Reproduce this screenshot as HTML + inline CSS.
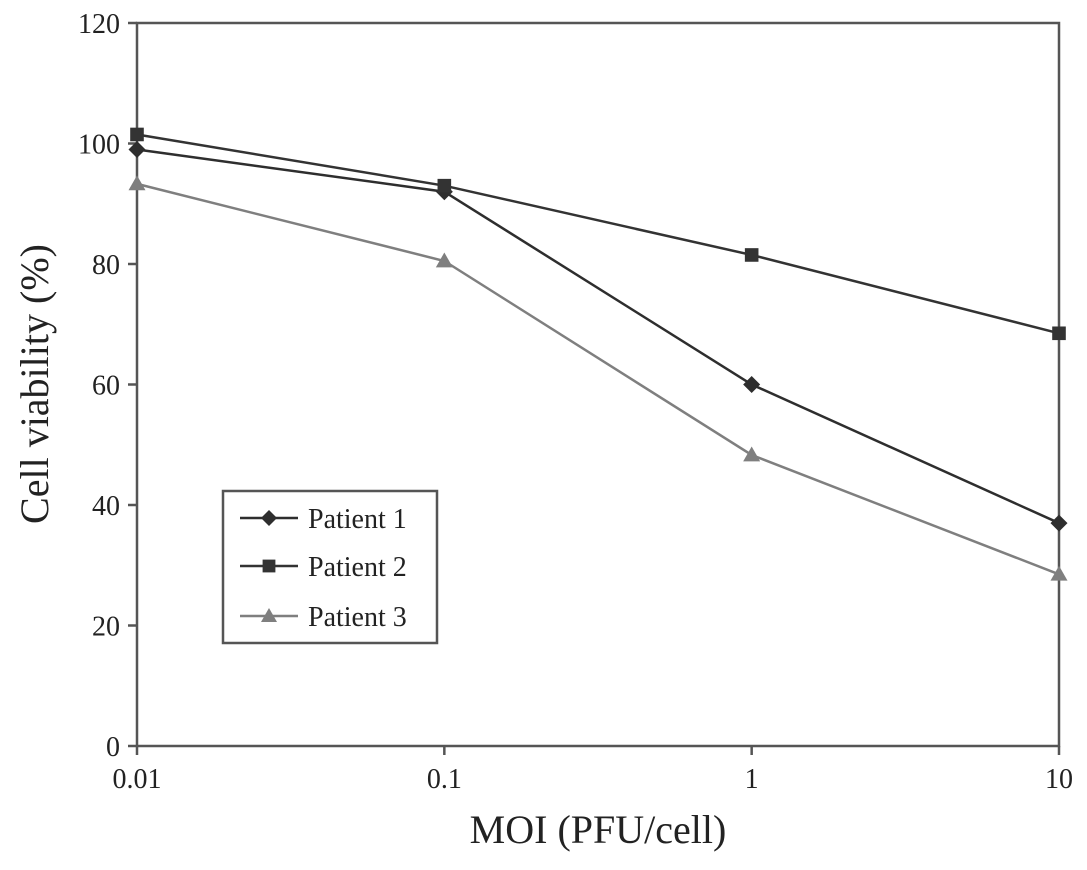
<!DOCTYPE html>
<html><head><meta charset="utf-8"><style>
html,body{margin:0;padding:0;background:#fff;}
svg{display:block;font-family:"Liberation Serif",serif;}
</style></head><body>
<svg id="chart" width="1087" height="870" viewBox="0 0 1087 870" xmlns="http://www.w3.org/2000/svg"></svg>
<script>
const categories = [0.01, 0.1, 1, 10];
const xTickLabels = ["0.01", "0.1", "1", "10"];
const yTicks = [0, 20, 40, 60, 80, 100, 120];
const patient1 = [99, 92, 60, 37];
const patient2 = [101.5, 93, 81.5, 68.5];
const patient3 = [93.3, 80.5, 48.3, 28.5];
const seriesNames = ["Patient 1", "Patient 2", "Patient 3"];

const svg = document.getElementById('chart');
const NS = 'http://www.w3.org/2000/svg';
const L = 137, R = 1059, T = 23, B = 746;
function xs(v){ return L + (Math.log10(v) - Math.log10(categories[0])) / (Math.log10(categories[categories.length-1]) - Math.log10(categories[0])) * (R - L); }
function ys(v){ return B - v / 120 * (B - T); }
function mk(tag, attrs, parent){ const e = document.createElementNS(NS, tag); for (const k in attrs) e.setAttribute(k, attrs[k]); (parent||svg).appendChild(e); return e; }

const frame = mk('rect', {x:L, y:T, width:R-L, height:B-T, fill:'none', stroke:'#555', 'stroke-width':2.5});



yTicks.forEach(v => {
  const y = ys(v);
  const t = mk('line', {x1:L-9, x2:L, y1:y, y2:y, stroke:'#555', 'stroke-width':2.5});
  
  
  const lb = mk('text', {x:L-17, y:y+10, 'text-anchor':'end', 'font-size':28, fill:'#222'});
  lb.textContent = v;
  
  
});
categories.forEach((c, i) => {
  const x = xs(c);
  const t = mk('line', {x1:x, x2:x, y1:B, y2:B+9, stroke:'#555', 'stroke-width':2.5});
  
  
  const lb = mk('text', {x:x, y:B+42, 'text-anchor':'middle', 'font-size':28, fill:'#222'});
  lb.textContent = xTickLabels[i];
  
  
});

const xt = mk('text', {x:598, y:843, 'text-anchor':'middle', 'font-size':40, fill:'#222'});
xt.textContent = 'MOI (PFU/cell)';


const yt = mk('text', {x:0, y:0, 'text-anchor':'middle', 'font-size':40, fill:'#222', transform:'translate(48,384) rotate(-90)'});
yt.textContent = 'Cell viability (%)';



function marker(g, shape, x, y, color, s){
  if (shape === 'diamond') return mk('polygon', {points:`${x},${y-s} ${x+s},${y} ${x},${y+s} ${x-s},${y}`, fill:color}, g);
  if (shape === 'square') return mk('rect', {x:x-s*0.8, y:y-s*0.8, width:s*1.6, height:s*1.6, fill:color}, g);
  return mk('polygon', {points:`${x},${y-s} ${x+s},${y+s*0.75} ${x-s},${y+s*0.75}`, fill:color}, g);
}
const series = [
  {vals:patient1, color:'#2e2e2e', shape:'diamond'},
  {vals:patient2, color:'#333', shape:'square'},
  {vals:patient3, color:'#7f7f7f', shape:'triangle'}
];
series.forEach((s, si) => {
  const g = mk('g', {});
  
  
  const pts = s.vals.map((v, i) => xs(categories[i]) + ',' + ys(v)).join(' ');
  mk('polyline', {points:pts, fill:'none', stroke:s.color, 'stroke-width':2.5}, g);
  s.vals.forEach((v, i) => {
    const m = marker(g, s.shape, xs(categories[i]), ys(v), s.color, 8.5);
    
    
  });
});

const lg = mk('g', {});


mk('rect', {x:223, y:491, width:214, height:152, fill:'#fff', stroke:'#555', 'stroke-width':2.5}, lg);
[518, 566, 616].forEach((y, i) => {
  const e = mk('g', {}, lg);
  
  
  mk('line', {x1:240, x2:298, y1:y, y2:y, stroke:series[i].color, 'stroke-width':2.5}, e);
  marker(e, series[i].shape, 269, y, series[i].color, 8);
  const t = mk('text', {x:308, y:y+10, 'font-size':28, fill:'#222'}, e);
  t.textContent = seriesNames[i];
});
</script>
</body></html>
